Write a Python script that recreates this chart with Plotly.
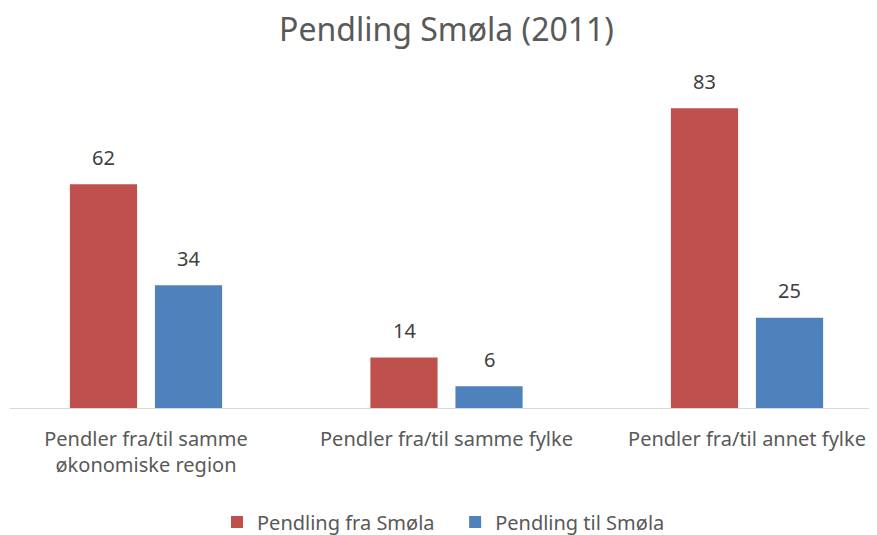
import plotly.graph_objects as go

categories = ["Pendler fra/til samme<br>økonomiske region",
              "Pendler fra/til samme fylke",
              "Pendler fra/til annet fylke"]
fra_smola = [62, 14, 83]
til_smola = [34, 6, 25]

red = "#C0504D"
blue = "#4F81BD"
font = "Noto Sans, Open Sans, sans-serif"

fig = go.Figure()
fig.add_trace(go.Bar(x=categories, y=fra_smola, name="Pendling fra Smøla   ",
                     marker=dict(color=red, line=dict(width=0))))
fig.add_trace(go.Bar(x=categories, y=til_smola, name="Pendling til Smøla",
                     marker=dict(color=blue, line=dict(width=0))))

# data labels above bars
for vals, shift in [(fra_smola, -42.5), (til_smola, 42.5)]:
    for c, v in zip(categories, vals):
        fig.add_annotation(x=c, y=v, text=str(v), showarrow=False,
                           xshift=shift, yshift=27,
                           font=dict(size=20, color="#404040", family=font))

fig.update_layout(
    width=877, height=535,
    title=dict(text="Pendling Smøla (2011)", x=0.5, xanchor="center",
               y=1 - 22 / 535, yanchor="middle",
               font=dict(size=32, color="#595959", family=font)),
    plot_bgcolor="white", paper_bgcolor="white",
    barmode="group", bargap=0.434, bargroupgap=0.21,
    margin=dict(l=2, r=8, t=57, b=135),
    showlegend=True,
    legend=dict(orientation="h", x=0.5, xanchor="center", y=-0.332, yanchor="middle",
                font=dict(size=20, color="#595959", family=font),
                itemwidth=30, traceorder="normal"),
    font=dict(family=font, color="#595959"),
)

fig.update_xaxes(range=[-0.4526, 2.4326], showline=True, linecolor="#d9d9d9",
                 linewidth=1, ticks="", tickfont=dict(size=20, color="#595959"),
                 ticklabelstandoff=13, showgrid=False)
fig.update_yaxes(range=[0, 95], visible=False, showgrid=False, zeroline=False)

fig.write_html("out.html")
